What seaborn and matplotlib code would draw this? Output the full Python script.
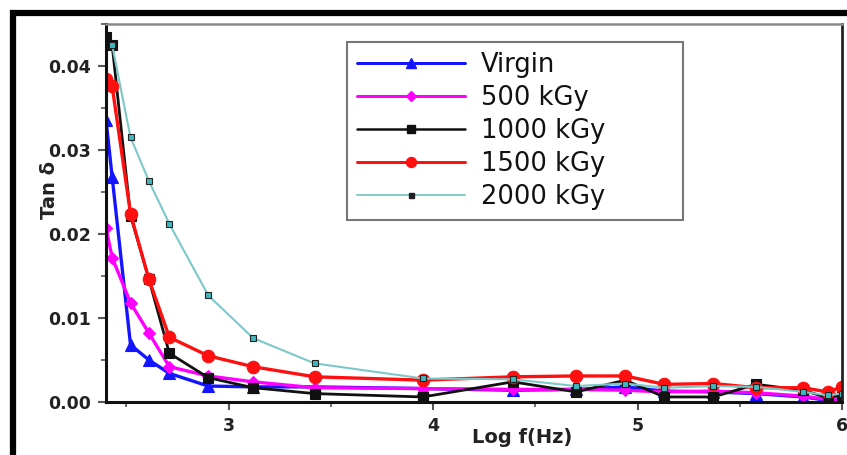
import numpy as np
import pandas as pd
import matplotlib
matplotlib.use("Agg")
import matplotlib.pyplot as plt
from matplotlib.lines import Line2D
from matplotlib.ticker import MultipleLocator, FormatStrFormatter
import seaborn as sns

sns.set_style("ticks")
plt.rcParams['font.family'] = ['DejaVu Sans']

log_f = [2.40, 2.43, 2.52, 2.61, 2.71, 2.90, 3.12, 3.42, 3.95, 4.39, 4.70, 4.94, 5.13, 5.37, 5.58, 5.81, 5.93, 6.00]
virgin = [0.0336, 0.0268, 0.0068, 0.0050, 0.0034, 0.0019, 0.0018, 0.0018, 0.0016, 0.0014, 0.0015, 0.0018, 0.0013, 0.0012, 0.0010, 0.0006, 0.0002, 0.0002]
k500 = [0.0207, 0.0172, 0.0118, 0.0082, 0.0042, 0.0031, 0.0024, 0.0017, 0.0016, 0.0015, 0.0015, 0.0014, 0.0012, 0.0013, 0.0011, 0.0007, 0.0003, 0.0002]
k1000 = [0.0435, 0.0425, 0.0222, 0.0146, 0.0058, 0.0029, 0.0017, 0.0010, 0.0006, 0.0024, 0.0012, 0.0026, 0.0006, 0.0006, 0.0021, 0.0014, 0.0005, 0.0008]
k1500 = [0.0385, 0.0376, 0.0224, 0.0146, 0.0077, 0.0055, 0.0042, 0.0030, 0.0026, 0.0030, 0.0031, 0.0031, 0.0021, 0.0022, 0.0017, 0.0017, 0.0012, 0.0018]
k2000 = [np.nan, 0.0425, 0.0315, 0.0263, 0.0212, 0.0127, 0.0076, 0.0046, 0.0028, 0.0027, 0.0019, 0.0022, 0.0017, 0.0019, 0.0018, 0.0012, 0.0008, 0.0010]

labels = ["Virgin", "500 kGy", "1000 kGy", "1500 kGy", "2000 kGy"]
series = [virgin, k500, k1000, k1500, k2000]

styles = {
    "Virgin":   dict(color="#1414ff", marker="^", ms=9, lw=2.4, mfc="#1414ff", mec="#1414ff"),
    "500 kGy":  dict(color="#ff00ff", marker="D", ms=6, lw=2.4, mfc="#ff00ff", mec="#ff00ff"),
    "1000 kGy": dict(color="#111111", marker="s", ms=7, lw=2.0, mfc="#111111", mec="#111111"),
    "1500 kGy": dict(color="#ff1010", marker="o", ms=9, lw=2.4, mfc="#ff1010", mec="#ff1010"),
    "2000 kGy": dict(color="#7cc8c8", marker="s", ms=4.5, lw=1.5, mfc="#40b8c0", mec="#222222"),
}

fig = plt.figure(figsize=(8.47, 4.55), dpi=100)
ax = fig.add_axes([106/847, 1-402/455, (842-106)/847, (402-24)/455])

for lab, vals in zip(labels, series):
    df = pd.DataFrame({"x": log_f, "y": vals})
    st = styles[lab]
    sns.lineplot(data=df, x="x", y="y", ax=ax, color=st["color"], marker=st["marker"],
                 markersize=st["ms"], linewidth=st["lw"], markerfacecolor=st["mfc"],
                 markeredgecolor=st["mec"], markeredgewidth=0.8, label=lab,
                 sort=False, estimator=None, legend=False)

ax.set_xlim(2.4, 6.0)
ax.set_ylim(0, 0.045)
ax.xaxis.set_major_locator(MultipleLocator(1))
ax.xaxis.set_minor_locator(MultipleLocator(0.5))
ax.yaxis.set_major_locator(MultipleLocator(0.01))
ax.yaxis.set_minor_locator(MultipleLocator(0.005))
ax.yaxis.set_major_formatter(FormatStrFormatter("%.2f"))
ax.xaxis.set_major_formatter(FormatStrFormatter("%d"))
ax.tick_params(which="major", direction="out", length=6, width=1.5, color="#555555",
               labelsize=12.5, pad=5)
ax.tick_params(which="minor", direction="out", length=3.5, width=1.2, color="#555555")
for t in ax.get_xticklabels() + ax.get_yticklabels():
    t.set_fontweight("bold")
    t.set_color("#222222")

for side in ["left", "bottom"]:
    ax.spines[side].set_linewidth(2.2)
    ax.spines[side].set_color("#111111")
ax.spines["right"].set_linewidth(2.0)
ax.spines["right"].set_color("#222222")
ax.spines["top"].set_linewidth(1.8)
ax.spines["top"].set_color("#8a8a8a")
ax.spines["top"].set_visible(True)
ax.spines["right"].set_visible(True)

ax.set_xlabel("Log f(Hz)", fontsize=14, fontweight="bold", color="#222222")
ax.xaxis.set_label_coords((522-106)/736, -0.068)
ax.set_ylabel("Tan δ", fontsize=14, fontweight="bold", color="#222222")
ax.yaxis.set_label_coords(-0.064, 0.56)

handles = []
for lab in labels:
    st = styles[lab]
    handles.append(Line2D([], [], color=st["color"], lw=st["lw"] * 0.9, marker=st["marker"],
                          ms=st["ms"] * 0.8, mfc=st["mfc"] if lab != "2000 kGy" else "#222222",
                          mec=st["mec"]))
leg = fig.legend(handles, labels, loc="upper left",
                 bbox_to_anchor=(347/847, 1-221/455, 336/847, 179/455),
                 bbox_transform=fig.transFigure, mode="expand", prop={"size": 18.5},
                 handlelength=4.2, handletextpad=0.6, labelspacing=0.27, borderpad=0.4,
                 borderaxespad=0, fancybox=False, frameon=True, edgecolor="#777777",
                 framealpha=1)
leg.get_frame().set_linewidth(1.5)
for t in leg.get_texts():
    t.set_color("#111111")

# outer L-shaped frame
fig.add_artist(Line2D([10/847, 1.0], [1-13/455, 1-13/455], transform=fig.transFigure,
                      color="black", lw=4.5, solid_capstyle="butt"))
fig.add_artist(Line2D([12.5/847, 12.5/847], [0, 1-10/455], transform=fig.transFigure,
                      color="black", lw=4.5, solid_capstyle="butt"))

fig.savefig("out.png", dpi=100)
